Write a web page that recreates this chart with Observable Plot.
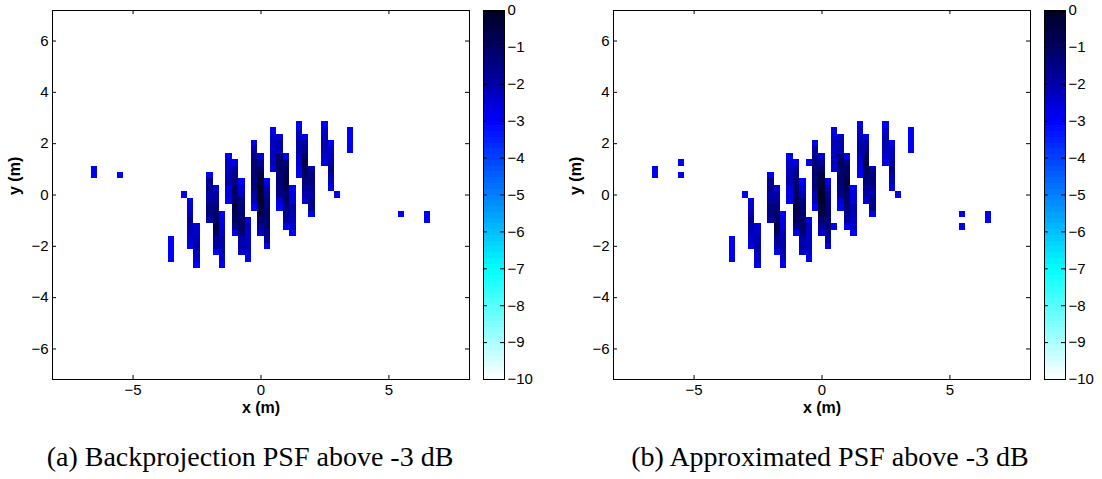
<!DOCTYPE html>
<html>
<head>
<meta charset="utf-8">
<script src="https://cdn.jsdelivr.net/npm/d3@7"></script>
<script src="https://cdn.jsdelivr.net/npm/@observablehq/plot@0.6"></script>
<style>
  html, body { margin: 0; padding: 0; background: #fff; }
  body { width: 1102px; height: 479px; position: relative; overflow: hidden; }
  .box { position: absolute; top: 0; }
  .box svg { max-width: none !important; display: block; }
  .cap { position: absolute; top: 442px; width: 560px; text-align: center;
         font-family: "Liberation Serif", "Times New Roman", serif; font-size: 28px; line-height: 30px; color: #000; white-space: nowrap; }
</style>
</head>
<body>
<div id="mainA" class="box" style="left:0px;width:480px"></div>
<div id="barA" class="box" style="left:480px;width:61px"></div>
<div id="mainB" class="box" style="left:561px;width:480px"></div>
<div id="barB" class="box" style="left:1041px;width:61px"></div>
<div class="cap" style="left:-30px">(a) Backprojection PSF above -3 dB</div>
<div class="cap" style="left:550px">(b) Approximated PSF above -3 dB</div>
<script>
// ---------- data ----------
const CELL = 0.25; // pixel size (m)
// columns of cells above -3 dB: x centre (m), y of top cell (m), dB values from top to bottom
const colX   = [-6.5, -5.5, -3.5, -3.0, -2.75, -2.5, -2.0, -1.75, -1.5, -1.25, -1.0, -0.75, -0.5, -0.25, 0, 0.25, 0.5, 0.75, 1.0, 1.25, 1.5, 1.75, 2.0, 2.5, 2.75, 3.0, 3.5, 5.5, 6.5];
const colTop = [1.0, 0.75, -1.75, 0, -0.25, -1.25, 0.75, 0.25, -0.75, 1.5, 1.25, 0.5, -1.0, 2.0, 1.5, 0.5, 2.5, 2.25, 1.5, 0.25, 2.75, 2.25, 1.0, 2.75, 2.0, 0, 2.5, -0.75, -0.75];
const colDb = [
  [-2.9, -2.9],
  [-2.9],
  [-2.9, -2.9, -2.9, -2.9],
  [-2.9],
  [-2.7, -2.4, -2.1, -1.5, -2.0, -2.2, -2.4, -2.9],
  [-2.6, -2.4, -2.2, -2.0, -2.2, -2.4, -2.9],
  [-2.8, -1.7, -1.6, -2.0, -1.8, -1.4, -1.5, -2.0],
  [-2.5, -2.05, -1.8, -1.4, -1.0, -0.8, -0.6, -1.0, -1.7, -2.0, -2.9],
  [-2.9, -2.7, -2.5, -2.3, -2.0, -2.0, -2.2, -2.4, -2.9],
  [-2.9, -2.4, -2.3, -2.2, -2.1, -2.6, -2.55, -2.9],
  [-2.8, -1.9, -1.6, -1.3, -1.0, -1.1, -0.8, -0.6, -0.8, -1.0, -1.6, -2.9],
  [-2.9, -2.5, -2.2, -1.5, -1.3, -1.3, -1.1, -1.0, -1.2, -2.1, -2.0, -2.4],
  [-2.6, -2.3, -2.4, -2.3, -2.2, -2.5, -2.8],
  [-2.8, -1.9, -1.6, -1.2, -1.3, -1.2, -1.4, -1.5, -2.0, -2.2, -2.9],
  [-2.4, -1.8, -1.2, -0.7, -0.4, -0.1, 0, -0.1, -0.4, -0.7, -1.2, -1.8, -2.4],
  [-2.9, -2.2, -1.9, -1.5, -1.4, -1.2, -1.3, -1.2, -1.6, -1.9, -2.8],
  [-2.8, -2.5, -2.2, -2.3, -2.4, -2.3, -2.6],
  [-2.4, -2.0, -2.1, -1.2, -1.0, -1.1, -1.3, -1.3, -1.5, -1.5, -2.5, -2.9],
  [-2.9, -1.6, -1.0, -0.8, -0.6, -0.8, -1.1, -1.0, -1.3, -1.6, -1.9, -2.8],
  [-2.9, -2.55, -2.6, -2.1, -2.2, -2.3, -2.4, -2.9],
  [-2.9, -2.4, -2.2, -2.0, -2.0, -2.3, -2.5, -2.7, -2.9],
  [-2.9, -2.0, -1.7, -1.0, -0.6, -0.8, -1.0, -1.4, -1.8, -2.05, -2.5],
  [-2.0, -1.5, -1.4, -1.8, -2.0, -1.6, -1.7, -2.8],
  [-2.9, -2.4, -2.2, -2.0, -2.2, -2.4, -2.6],
  [-2.9, -2.4, -2.2, -2.0, -1.5, -2.1, -2.4, -2.7],
  [-2.9],
  [-2.9, -2.9, -2.9, -2.9],
  [-2.9],
  [-2.9, -2.9]
];
// extra cells present only in the approximated PSF (b)
const extraX  = [-5.5, -0.5, 0.5, 5.5];
const extraY  = [1.25, 1.25, -1.25, -1.25];
const extraDb = [-2.9, -2.9, -2.9, -2.9];

const xDomain = [-8.15, 8.15];
const yDomain = [-7.19, 7.19];
const xTicks = [-5, 0, 5];
const yTicks = [-6, -4, -2, 0, 2, 4, 6];
const cbTicks = [-10, -9, -8, -7, -6, -5, -4, -3, -2, -1, 0];
const dbStops  = [-10, -7, -3, -2, -1, 0];
const dbColors = ["#ffffff", "#00ffff", "#0000ff", "#0000a8", "#000060", "#000022"];

// ---------- build ----------
function buildCells(xs, tops, dbs) {
  const out = [];
  xs.forEach((x, i) => dbs[i].forEach((db, j) => out.push({x, y: tops[i] - CELL * j, db})));
  return out;
}
const cellsA = buildCells(colX, colTop, colDb);
const cellsB = cellsA.concat(extraX.map((x, i) => ({x, y: extraY[i], db: extraDb[i]})));

const colorOpts = {type: "linear", domain: dbStops, range: dbColors, interpolate: "rgb"};
const font = "'Liberation Sans', Arial, Helvetica, sans-serif";

function psfPlot(cells) {
  return Plot.plot({
    width: 480, height: 430,
    marginLeft: 52, marginRight: 11, marginTop: 10, marginBottom: 51,
    style: {fontFamily: font, fontSize: "15px", color: "#000", background: "transparent"},
    x: {domain: xDomain},
    y: {domain: yDomain},
    color: colorOpts,
    marks: [
      Plot.rect(cells, {
        x1: d => d.x - CELL / 2, x2: d => d.x + CELL / 2,
        y1: d => d.y - CELL / 2, y2: d => d.y + CELL / 2,
        fill: "db", shapeRendering: "crispEdges"
      }),
      Plot.frame({stroke: "#000", strokeWidth: 1}),
      Plot.ruleX(xTicks, {insetTop: 365, stroke: "#000"}),
      Plot.ruleX(xTicks, {insetBottom: 365, stroke: "#000"}),
      Plot.ruleY(yTicks, {insetRight: 413, stroke: "#000"}),
      Plot.ruleY(yTicks, {insetLeft: 413, stroke: "#000"}),
      Plot.axisX(xTicks, {tickSize: 0, tickPadding: 5, label: null, fontSize: 15}),
      Plot.axisY(yTicks, {tickSize: 0, tickPadding: 4, label: null, fontSize: 15}),
      Plot.text(["x (m)"], {text: d => d, frameAnchor: "bottom", dy: 33, fontWeight: "bold", fontSize: 16}),
      Plot.text(["y (m)"], {text: d => d, frameAnchor: "left", dx: -38, rotate: -90, fontWeight: "bold", fontSize: 16})
    ]
  });
}

function colorbar() {
  const n = 64, step = 10 / n;
  const levels = d3.range(n).map(i => -10 + i * step);
  return Plot.plot({
    width: 61, height: 430,
    marginLeft: 3, marginRight: 37, marginTop: 10, marginBottom: 51,
    style: {fontFamily: font, fontSize: "15px", color: "#000", background: "transparent"},
    x: {domain: [0, 1], axis: null},
    y: {domain: [-10, 0]},
    color: colorOpts,
    marks: [
      Plot.rect(levels, {x1: 0, x2: 1, y1: d => d, y2: d => d + step, fill: d => d + step / 2, shapeRendering: "crispEdges"}),
      Plot.frame({stroke: "#000", strokeWidth: 1}),
      Plot.ruleY(cbTicks, {insetRight: 17, stroke: "#000"}),
      Plot.ruleY(cbTicks, {insetLeft: 17, stroke: "#000"}),
      Plot.axisY(cbTicks, {anchor: "right", tickSize: 0, tickPadding: 3, label: null, fontSize: 15})
    ]
  });
}

document.getElementById("mainA").append(psfPlot(cellsA));
document.getElementById("barA").append(colorbar());
document.getElementById("mainB").append(psfPlot(cellsB));
document.getElementById("barB").append(colorbar());
</script>
</body>
</html>
